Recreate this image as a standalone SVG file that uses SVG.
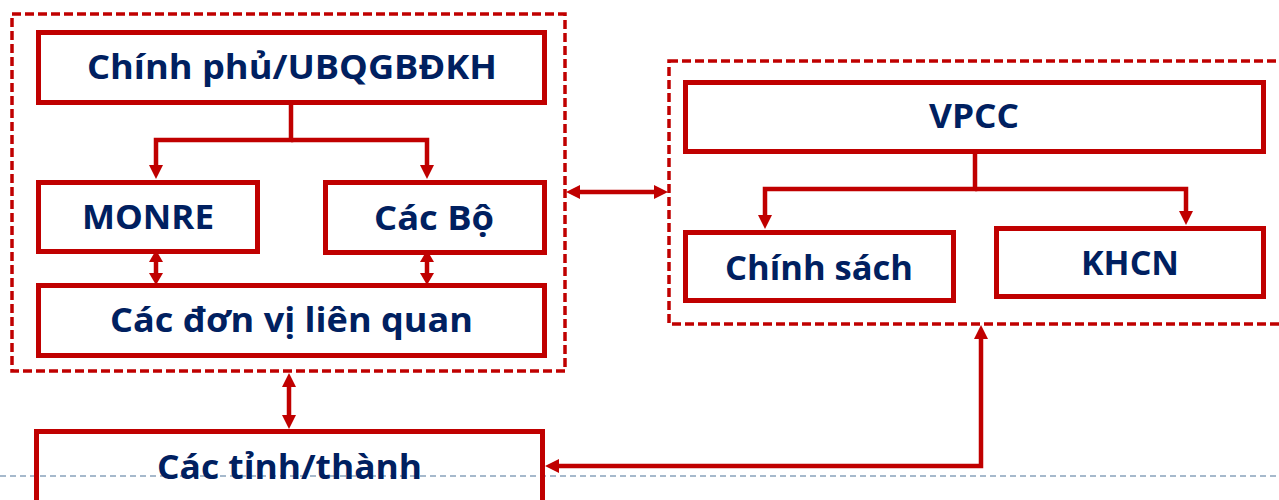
<svg xmlns="http://www.w3.org/2000/svg" width="1279" height="500" viewBox="0 0 1279 500">
<style>
.box{fill:none;stroke:#C00000;stroke-width:5}
.grp{fill:none;stroke:#C00000;stroke-width:3.5;stroke-dasharray:9 4}
.lbl{font-family:"Open Sans","Noto Sans","Liberation Sans",sans-serif;font-weight:bold;font-size:34px;fill:#002060}
.con{fill:none;stroke:#C00000;stroke-width:4.5;stroke-linejoin:miter}
.foot{fill:none;stroke:#A6B9CC;stroke-width:2;stroke-dasharray:6 4}
</style>
<defs>
<marker id="ah" viewBox="0 0 14 14" refX="4" refY="7" markerWidth="14" markerHeight="14" markerUnits="userSpaceOnUse" orient="auto-start-reverse">
<path d="M0,0 L14,7 L0,14 z" fill="#C00000"/>
</marker>
<marker id="ahs" viewBox="0 0 12 14" refX="4" refY="7" markerWidth="12" markerHeight="14" markerUnits="userSpaceOnUse" orient="auto-start-reverse">
<path d="M0,0 L12,7 L0,14 z" fill="#C00000"/>
</marker>
</defs>
<rect width="1279" height="500" fill="#FFFFFF"/>
<line class="foot" x1="0" y1="476" x2="1279" y2="476"/>
<g id="group-left"><rect class="grp" x="12" y="14" width="553" height="357"/></g>
<g id="group-right"><rect class="grp" x="669" y="61" width="700" height="263"/></g>
<g id="chinhphu"><rect class="box" x="38.5" y="32.5" width="506" height="70"/><text class="lbl" x="87" y="79" textLength="410" lengthAdjust="spacingAndGlyphs">Chính phủ/UBQGBĐKH</text></g>
<g id="monre"><rect class="box" x="38.5" y="182.5" width="219" height="69"/><text class="lbl" x="82" y="229" textLength="132" lengthAdjust="spacingAndGlyphs">MONRE</text></g>
<g id="cacbo"><rect class="box" x="325.5" y="182.5" width="219" height="70"/><text class="lbl" x="374" y="230" textLength="120" lengthAdjust="spacingAndGlyphs">Các Bộ</text></g>
<g id="donvi"><rect class="box" x="38.5" y="285.5" width="506" height="70"/><text class="lbl" x="110" y="332" textLength="363" lengthAdjust="spacingAndGlyphs">Các đơn vị liên quan</text></g>
<g id="vpcc"><rect class="box" x="685.5" y="82.5" width="578" height="69"/><text class="lbl" x="929" y="128" textLength="90" lengthAdjust="spacingAndGlyphs">VPCC</text></g>
<g id="chinhsach"><rect class="box" x="685.5" y="232.5" width="268" height="68"/><text class="lbl" x="725" y="280" textLength="188" lengthAdjust="spacingAndGlyphs">Chính sách</text></g>
<g id="khcn"><rect class="box" x="996.5" y="228.5" width="267" height="68"/><text class="lbl" x="1081" y="275" textLength="98" lengthAdjust="spacingAndGlyphs">KHCN</text></g>
<g id="cactinh"><rect class="box" x="36.5" y="431.5" width="506" height="80"/><text class="lbl" x="157" y="479" textLength="265" lengthAdjust="spacingAndGlyphs">Các tỉnh/thành</text></g>
<g id="connectors">
<path class="con" d="M291,105 V140 H156 V169" marker-end="url(#ah)"/>
<path class="con" d="M291,140 H427 V169" marker-end="url(#ah)"/>
<path class="con" d="M156,258 V277" marker-start="url(#ahs)" marker-end="url(#ahs)"/>
<path class="con" d="M427,258 V277" marker-start="url(#ahs)" marker-end="url(#ahs)"/>
<path class="con" d="M975,154 V189 H765 V219" marker-end="url(#ah)"/>
<path class="con" d="M975,189 H1186 V215" marker-end="url(#ah)"/>
<path class="con" d="M576,192 H658" marker-start="url(#ah)" marker-end="url(#ah)"/>
<path class="con" d="M289,383 V419" marker-start="url(#ah)" marker-end="url(#ah)"/>
<path class="con" stroke-width="5" d="M555,466 H981 V335" marker-start="url(#ah)" marker-end="url(#ah)"/>
</g>
</svg>
